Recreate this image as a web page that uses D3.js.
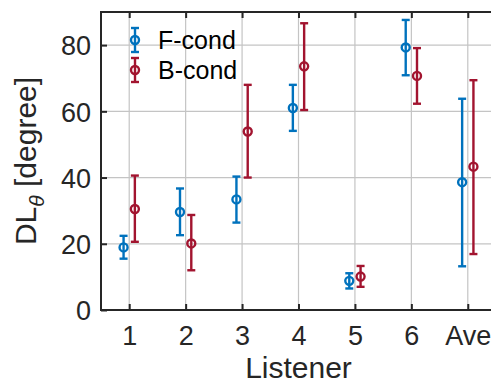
<!DOCTYPE html>
<html>
<head>
<meta charset="utf-8">
<script src="https://cdn.jsdelivr.net/npm/d3@7"></script>
<style>
  body { margin: 0; background: #fff; }
  svg { font-family: "Liberation Sans", Arial, Helvetica, sans-serif; }
</style>
</head>
<body>
<svg width="491" height="383"></svg>
<script>
// data
const listeners = ['1', '2', '3', '4', '5', '6', 'Ave'];
const fMean  = [18.9, 29.6, 33.4, 61.0,  8.8, 79.3, 38.6];
const fLow   = [15.5, 22.6, 26.4, 54.1,  6.5, 70.9, 13.2];
const fHigh  = [22.4, 36.7, 40.3, 68.0, 11.1, 87.6, 63.8];
const bMean  = [30.5, 20.1, 53.9, 73.6, 10.1, 70.7, 43.3];
const bLow   = [20.6, 12.0, 40.0, 60.4,  7.0, 62.3, 16.9];
const bHigh  = [40.6, 28.7, 68.0, 86.6, 13.3, 79.1, 69.4];
const yTicks = [0, 20, 40, 60, 80];

const series = [
  { name: 'F-cond', color: '#0072BD', offset: -0.1, mean: fMean, low: fLow, high: fHigh },
  { name: 'B-cond', color: '#A2142F', offset: 0.1, mean: bMean, low: bLow, high: bHigh }
];

const svg = d3.select('svg');
const pLeft = 101, pTop = 12, pRight = 496, pBottom = 310;
const ink = '#262626';

const x = d3.scaleLinear().domain([0.5, 7.5]).range([pLeft, pRight]);
const y = d3.scaleLinear().domain([0, 90]).range([pBottom, pTop]);

// grid
const grid = svg.append('g').attr('class', 'grid');
grid.selectAll('line.v').data(listeners).enter().append('line')
  .attr('x1', (d, i) => x(i + 1)).attr('x2', (d, i) => x(i + 1))
  .attr('y1', pTop).attr('y2', pBottom)
  .attr('stroke', '#c4c4c4').attr('stroke-width', 1.2);
grid.selectAll('line.h').data(yTicks.slice(1)).enter().append('line')
  .attr('x1', pLeft).attr('x2', pRight)
  .attr('y1', d => y(d)).attr('y2', d => y(d))
  .attr('stroke', '#c4c4c4').attr('stroke-width', 1.2);

// axes
const xAxis = d3.axisBottom(x).tickValues(d3.range(1, 8))
  .tickFormat((d) => listeners[d - 1]).tickSizeInner(-6).tickSizeOuter(0).tickPadding(16);
const xg = svg.append('g').attr('transform', `translate(0,${pBottom})`).call(xAxis);
const xTop = d3.axisTop(x).tickValues(d3.range(1, 8)).tickFormat('')
  .tickSizeInner(-6).tickSizeOuter(0);
const xtg = svg.append('g').attr('transform', `translate(0,${pTop})`).call(xTop);
const yAxis = d3.axisLeft(y).tickValues(yTicks).tickSizeInner(-6).tickSizeOuter(0).tickPadding(10);
const yg = svg.append('g').attr('transform', `translate(${pLeft},0)`).call(yAxis);

[xg, xtg, yg].forEach(g => {
  g.select('.domain').attr('stroke', ink).attr('stroke-width', 2);
  g.selectAll('.tick line').attr('stroke', ink).attr('stroke-width', 2);
  g.selectAll('.tick text').attr('fill', ink).style('font-size', '27px')
    .style('font-family', '"Liberation Sans", Arial, sans-serif');
});
xg.select('.domain').attr('d', `M${pLeft},0H${pRight}`);
xtg.select('.domain').attr('d', `M${pLeft},0H${pRight}`);
yg.select('.domain').attr('d', `M0,${pBottom + 1}V${pTop - 1}`);
yg.selectAll('.tick text').attr('dy', '0.36em');

// error bars
const capW = 4;
series.forEach(s => {
  const g = svg.append('g').attr('stroke', s.color).attr('stroke-width', 2.4).attr('fill', 'none');
  const xs = (i) => x(i + 1 + s.offset);
  g.selectAll('line.bar').data(s.mean).enter().append('line')
    .attr('x1', (d, i) => xs(i)).attr('x2', (d, i) => xs(i))
    .attr('y1', (d, i) => y(s.low[i])).attr('y2', (d, i) => y(s.high[i]));
  g.selectAll('line.lo').data(s.mean).enter().append('line')
    .attr('x1', (d, i) => xs(i) - capW).attr('x2', (d, i) => xs(i) + capW)
    .attr('y1', (d, i) => y(s.low[i])).attr('y2', (d, i) => y(s.low[i]));
  g.selectAll('line.hi').data(s.mean).enter().append('line')
    .attr('x1', (d, i) => xs(i) - capW).attr('x2', (d, i) => xs(i) + capW)
    .attr('y1', (d, i) => y(s.high[i])).attr('y2', (d, i) => y(s.high[i]));
  g.selectAll('circle').data(s.mean).enter().append('circle')
    .attr('cx', (d, i) => xs(i)).attr('cy', d => y(d)).attr('r', 4)
    .attr('fill', 'none');
});

// legend
const legend = svg.append('g').attr('transform', 'translate(135,40)');
series.forEach((s, i) => {
  const row = legend.append('g').attr('transform', `translate(0,${i * 30})`)
    .attr('stroke', s.color).attr('stroke-width', 2.4).attr('fill', 'none');
  row.append('line').attr('x1', 0).attr('x2', 0).attr('y1', -12).attr('y2', 12);
  row.append('line').attr('x1', -capW).attr('x2', capW).attr('y1', -12).attr('y2', -12);
  row.append('line').attr('x1', -capW).attr('x2', capW).attr('y1', 12).attr('y2', 12);
  row.append('circle').attr('r', 4);
  legend.append('text').attr('x', 23).attr('y', i * 30 + 8.5)
    .attr('fill', '#000').style('font-size', '25px').text(s.name);
});

// axis labels
svg.append('text').attr('x', (pLeft + pRight) / 2).attr('y', 378)
  .attr('text-anchor', 'middle').attr('fill', ink).style('font-size', '30px').text('Listener');

const yl = svg.append('text').attr('transform', 'translate(36,161) rotate(-90)')
  .attr('text-anchor', 'middle').attr('fill', ink).style('font-size', '30px');
yl.append('tspan').text('DL');
yl.append('tspan').attr('dy', 8).style('font-size', '21px').style('font-style', 'italic').text('θ');
yl.append('tspan').attr('dy', -8).text(' [degree]');
</script>
</body>
</html>
